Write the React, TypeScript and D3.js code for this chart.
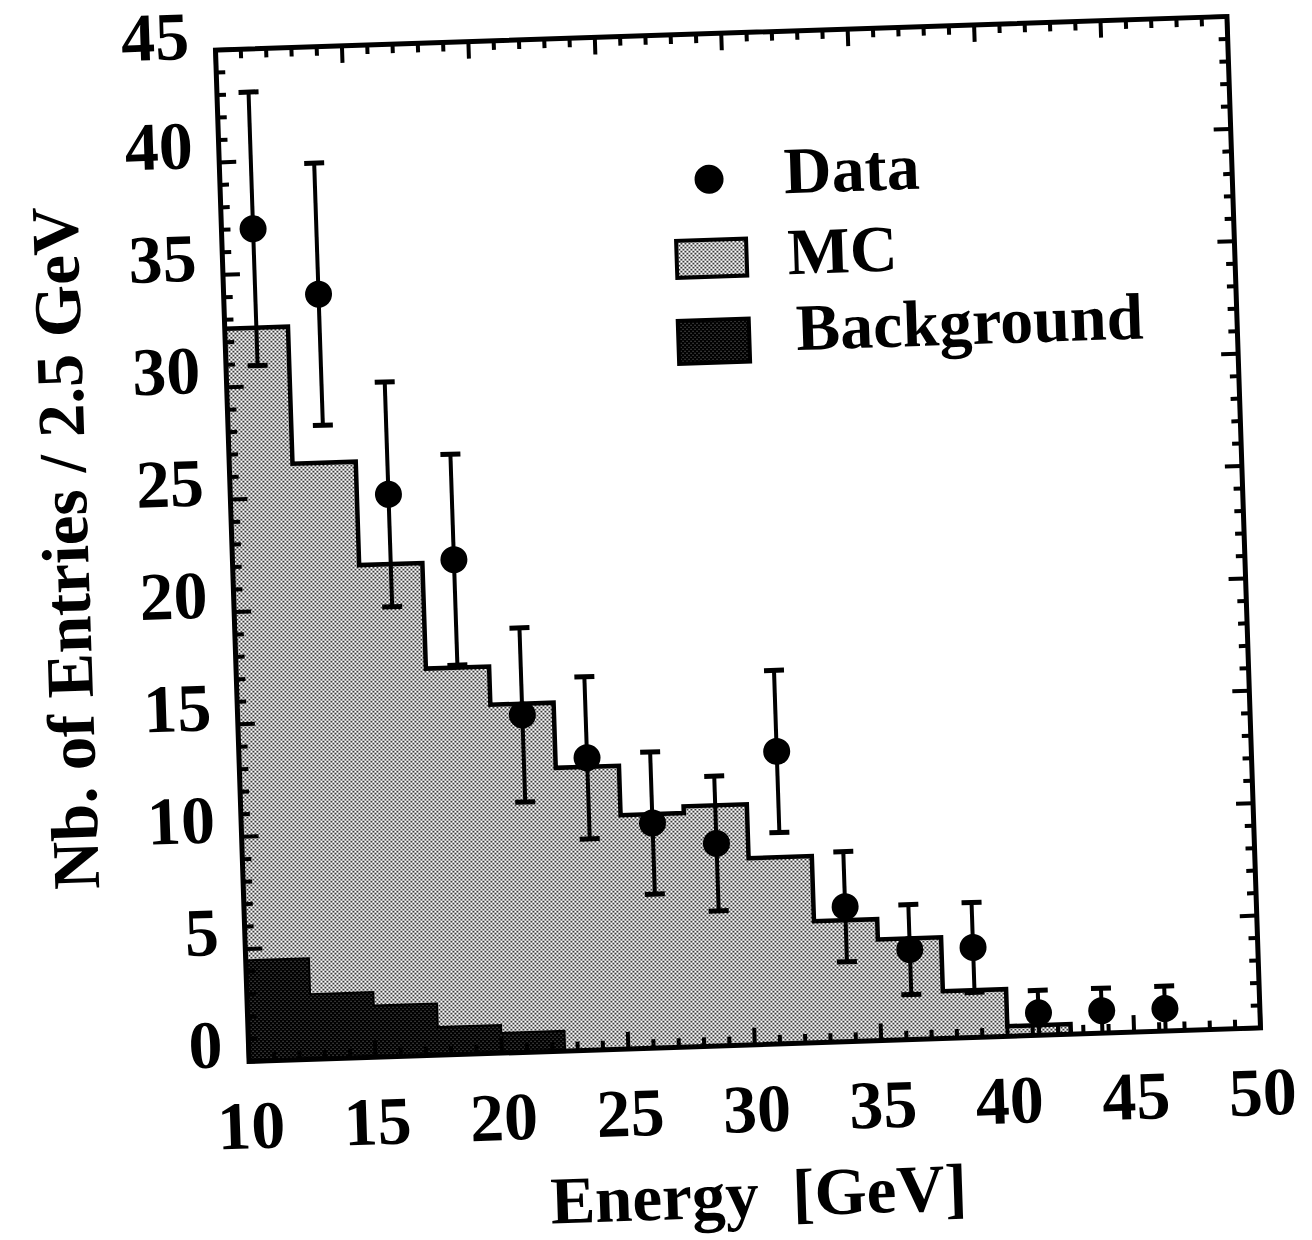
import React from 'react';
import * as d3 from 'd3';

// ---- data ----
const binLow = [10, 12.5, 15, 17.5, 20, 22.5, 25, 27.5, 30, 32.5, 35, 37.5, 40, 42.5, 45, 47.5];
const binWidth = 2.5;
const mcCounts = [32.6, 26.5, 21.9, 17.2, 15.5, 12.6, 10.4, 10.7, 8.3, 5.4, 4.5, 2.1, 0.45, 0, 0, 0];
const bgCounts = [4.5, 2.9, 2.3, 1.25, 0.9, 0, 0, 0, 0, 0, 0, 0, 0, 0, 0, 0];
const dataEnergy = [11.25, 13.75, 16.25, 18.75, 21.25, 23.75, 26.25, 28.75, 31.25, 33.75, 36.25, 38.75, 41.25, 43.75, 46.25];
const dataCounts = [37, 34, 25, 22, 15, 13, 10, 9, 13, 6, 4, 4, 1, 1, 1];
const xTickLabels = [10, 15, 20, 25, 30, 35, 40, 45, 50];
const yTickLabels = [0, 5, 10, 15, 20, 25, 30, 35, 40, 45];
const xMinorTicks = d3.range(10, 51, 1);
const yMinorTicks = d3.range(0, 46, 1);
const legendItems = ['Data', 'MC', 'Background'];
const xTitle = 'Energy  [GeV]';
const yTitle = 'Nb. of Entries / 2.5 GeV';

// ---- layout ----
const W = 1312, H = 1240;
const L = 232, T = 33, R = 1244, B = 1045;
const CX = 738, CY = 539;
const ANGLE = -1.9;
const FONT = '"Liberation Serif", "Times New Roman", Times, serif';

const x = d3.scaleLinear().domain([10, 50]).range([L, R]);
const y = d3.scaleLinear().domain([0, 45]).range([B, T]);

function histPoints(counts: number[]) {
  let last = -1;
  counts.forEach((c, i) => { if (c > 0) last = i; });
  const pts: [number, number][] = [];
  for (let i = 0; i <= last; i++) {
    pts.push([binLow[i], counts[i]]);
    pts.push([binLow[i] + binWidth, counts[i]]);
  }
  return { pts, end: binLow[last] + binWidth };
}

const line = d3.line<[number, number]>().x(d => x(d[0])).y(d => y(d[1]));

export default function App() {
  const mc = histPoints(mcCounts);
  const bg = histPoints(bgCounts);
  const mcArea = line([[10, 0], ...mc.pts, [mc.end, 0]]) + 'Z';
  const mcOutline = line([...mc.pts, [mc.end, 0]]);
  const bgArea = line([[10, 0], ...bg.pts, [bg.end, 0]]) + 'Z';

  const minorLen = 9, majorLen = 17;
  const tickStroke = 4;

  return (
    <svg width={W} height={H} style={{ position: 'absolute', left: 0, top: 0, background: '#fff' }}>
      <defs>
        <pattern id="mcPat" width="4" height="4" patternUnits="userSpaceOnUse" patternTransform={`rotate(${-ANGLE})`}>
          <rect width="4" height="4" fill="#fff" />
          <rect x="0" y="0" width="1.65" height="1.65" fill="#000" />
          <rect x="2" y="2" width="1.65" height="1.65" fill="#000" />
        </pattern>
        <pattern id="bgPat" width="4" height="4" patternUnits="userSpaceOnUse" patternTransform={`rotate(${-ANGLE})`}>
          <rect width="4" height="4" fill="#000" />
          <rect x="0" y="0" width="0.7" height="0.7" fill="#fff" />
          <rect x="2" y="2" width="0.7" height="0.7" fill="#fff" />
        </pattern>
        <clipPath id="plotClip">
          <rect x={L} y={T} width={R - L} height={B - T} />
        </clipPath>
      </defs>
      <rect width={W} height={H} fill="#fff" />
      <g transform={`rotate(${ANGLE}, ${CX}, ${CY})`}>
        <g clipPath="url(#plotClip)">
          <path d={mcArea} fill="url(#mcPat)" />
          <path d={mcOutline} fill="none" stroke="#000" strokeWidth={4.5} />
          <path d={bgArea} fill="url(#bgPat)" stroke="#000" strokeWidth={2} />
        </g>

        {/* data points with error bars */}
        {dataEnergy.map((e, i) => {
          const n = dataCounts[i];
          const err = Math.sqrt(n);
          const lo = Math.max(0, n - err);
          const hi = n + err;
          const cx = x(e);
          return (
            <g key={'d' + i}>
              <line x1={cx} x2={cx} y1={y(lo)} y2={y(hi)} stroke="#000" strokeWidth={4} />
              <line x1={cx - 10} x2={cx + 10} y1={y(hi)} y2={y(hi)} stroke="#000" strokeWidth={5} />
              {lo > 0 && <line x1={cx - 10} x2={cx + 10} y1={y(lo)} y2={y(lo)} stroke="#000" strokeWidth={5} />}
              <circle cx={cx} cy={y(n)} r={13.5} fill="#000" />
            </g>
          );
        })}

        {/* ticks */}
        {yMinorTicks.map(v => {
          const len = v % 5 === 0 ? majorLen : minorLen;
          return (
            <g key={'yt' + v}>
              <line x1={L} x2={L + len} y1={y(v)} y2={y(v)} stroke="#000" strokeWidth={tickStroke} />
              <line x1={R} x2={R - len} y1={y(v)} y2={y(v)} stroke="#000" strokeWidth={tickStroke} />
            </g>
          );
        })}
        {xMinorTicks.map(v => {
          const len = v % 5 === 0 ? majorLen : minorLen;
          return (
            <g key={'xt' + v}>
              <line x1={x(v)} x2={x(v)} y1={B} y2={B - len} stroke="#000" strokeWidth={tickStroke} />
              <line x1={x(v)} x2={x(v)} y1={T} y2={T + len} stroke="#000" strokeWidth={tickStroke} />
            </g>
          );
        })}

        {/* frame */}
        <rect x={L} y={T} width={R - L} height={B - T} fill="none" stroke="#000" strokeWidth={5} />

        {/* tick labels */}
        {yTickLabels.map(v => (
          <text key={'yl' + v} x={L - 26} y={y(v) + (v === 45 ? 8 : 5)} textAnchor="end" fontFamily={FONT} fontWeight="bold" fontSize={68} fill="#000">{v}</text>
        ))}
        {xTickLabels.map(v => (
          <text key={'xl' + v} x={x(v)} y={B + 87} textAnchor="middle" fontFamily={FONT} fontWeight="bold" fontSize={68} fill="#000">{v}</text>
        ))}

        {/* axis titles */}
        <text x={737} y={1217} textAnchor="middle" fontFamily={FONT} fontWeight="bold" fontSize={67} fill="#000" style={{ whiteSpace: 'pre' }}>{xTitle}</text>
        <text transform="translate(88, 526) rotate(-90)" textAnchor="middle" fontFamily={FONT} fontWeight="bold" fontSize={67} fill="#000">{yTitle}</text>

        {/* legend */}
        <circle cx={721} cy={178.5} r={14.5} fill="#000" />
        <text x={796} y={195} fontFamily={FONT} fontWeight="bold" fontSize={66} fill="#000">{legendItems[0]}</text>
        <rect x={686} y={239} width={70} height={37} fill="url(#mcPat)" stroke="#000" strokeWidth={4} />
        <text x={797} y={276} fontFamily={FONT} fontWeight="bold" fontSize={66} fill="#000">{legendItems[1]}</text>
        <rect x={685} y={319} width={71} height={43} fill="url(#bgPat)" stroke="#000" strokeWidth={4} />
        <text x={803} y={352} fontFamily={FONT} fontWeight="bold" fontSize={66} fill="#000">{legendItems[2]}</text>
      </g>
    </svg>
  );
}
